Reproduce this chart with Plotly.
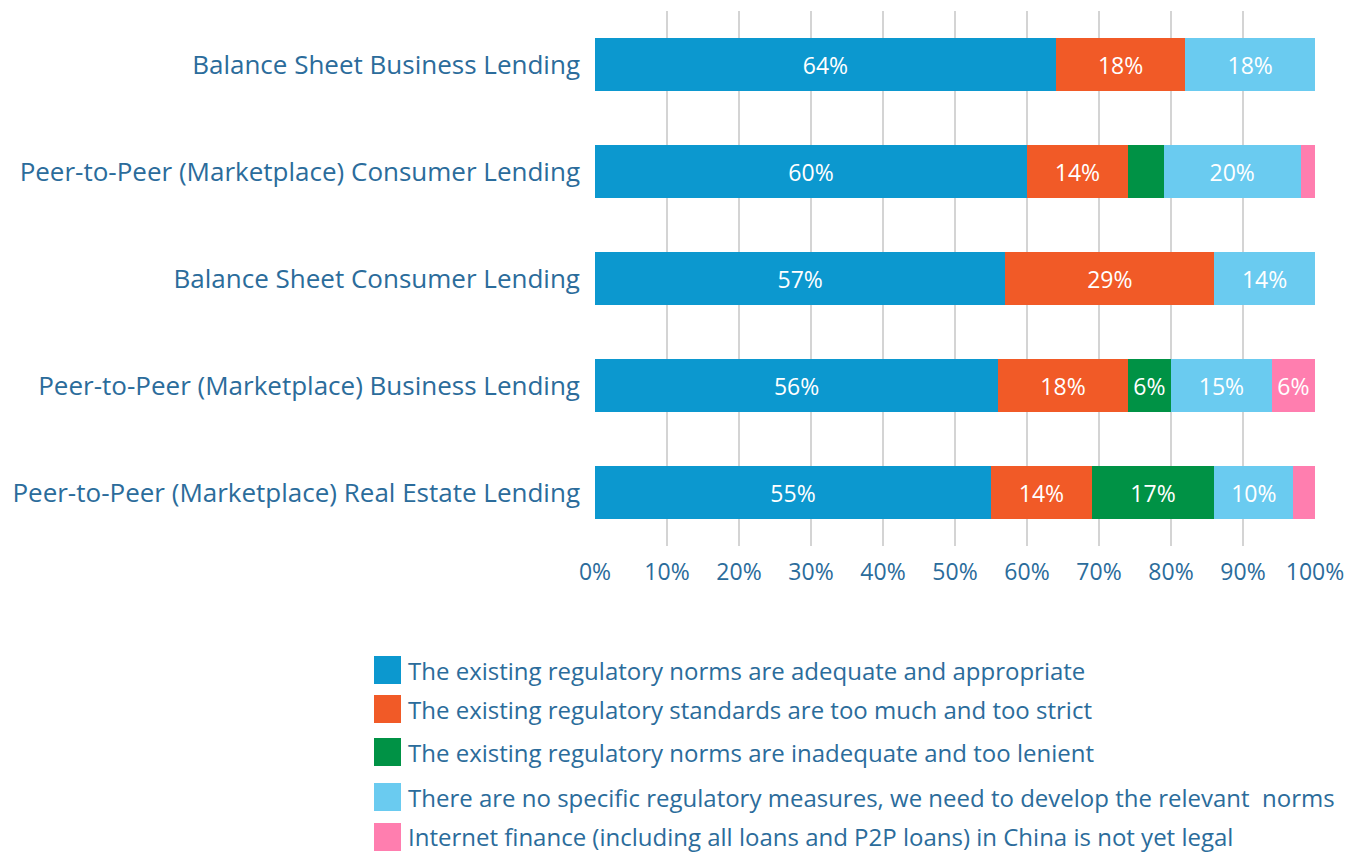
import plotly.graph_objects as go

categories = [
    "Balance Sheet Business Lending",
    "Peer-to-Peer (Marketplace) Consumer Lending",
    "Balance Sheet Consumer Lending",
    "Peer-to-Peer (Marketplace) Business Lending",
    "Peer-to-Peer (Marketplace) Real Estate Lending",
]

series_names = [
    "The existing regulatory norms are adequate and appropriate",
    "The existing regulatory standards are too much and too strict",
    "The existing regulatory norms are inadequate and too lenient",
    "There are no specific regulatory measures, we need to develop the relevant  norms",
    "Internet finance (including all loans and P2P loans) in China is not yet legal",
]

# segment widths (%)
adequate = [64, 60, 57, 56, 55]
too_strict = [18, 14, 29, 18, 14]
too_lenient = [0, 5, 0, 6, 17]
no_measures = [18, 19, 14, 14, 11]
not_legal = [0, 2, 0, 6, 3]

# printed labels
adequate_lbl = ["64%", "60%", "57%", "56%", "55%"]
too_strict_lbl = ["18%", "14%", "29%", "18%", "14%"]
too_lenient_lbl = ["", "", "", "6%", "17%"]
no_measures_lbl = ["18%", "20%", "14%", "15%", "10%"]
not_legal_lbl = ["", "", "", "6%", ""]

x_tick_vals = [0, 10, 20, 30, 40, 50, 60, 70, 80, 90, 100]
x_tick_text = ["0%", "10%", "20%", "30%", "40%", "50%", "60%", "70%", "80%", "90%", "100%"]

colors = ["#0C98CF", "#F15A27", "#009245", "#6ACBF0", "#FF7EAF"]

values = [adequate, too_strict, too_lenient, no_measures, not_legal]
labels = [adequate_lbl, too_strict_lbl, too_lenient_lbl, no_measures_lbl, not_legal_lbl]

FONT = "Open Sans"
TXT = "#2B6C9B"

fig = go.Figure()
for name, vals, lbl, col in zip(series_names, values, labels, colors):
    fig.add_trace(go.Bar(
        y=categories, x=vals, name=name, orientation="h",
        marker=dict(color=col, line=dict(width=0)),
        text=lbl, textposition="inside", insidetextanchor="middle",
        textangle=0,
        textfont=dict(family=FONT, size=23, color="white"),
        showlegend=False, hoverinfo="x+name",
    ))

# the page has an 8px body margin; work in page pixels
OFF = 8
PW, PH = 1365, 852
W, H = PW - 2 * OFF, PH - OFF
L, R, T, B = 595, 1315, 11, 546  # plot area in page pixels

def px_x(p):
    return (p - L) / (R - L)

def px_y(p):
    return (B - p) / (B - T)

shapes = []
annotations = []
legend_centers = [670, 709, 752, 797, 837]
for name, col, cy in zip(series_names, colors, legend_centers):
    shapes.append(dict(type="rect", xref="paper", yref="paper",
                       x0=px_x(374), x1=px_x(401),
                       y0=px_y(cy + 14), y1=px_y(cy - 14),
                       fillcolor=col, line=dict(width=0)))
    annotations.append(dict(xref="paper", yref="paper", x=px_x(406), y=px_y(cy),
                            xanchor="left", yanchor="middle", showarrow=False,
                            text=name, font=dict(family=FONT, size=24, color=TXT)))

fig.update_layout(
    barmode="stack",
    bargap=0.51,
    width=W, height=H,
    margin=dict(l=L - OFF, r=(OFF + W) - R, t=T - OFF, b=(OFF + H) - B, pad=0,
                autoexpand=False),
    paper_bgcolor="white", plot_bgcolor="white",
    uniformtext=dict(mode="show", minsize=23),
    shapes=shapes, annotations=annotations,
    showlegend=False,
    xaxis=dict(range=[0, 100], tickvals=x_tick_vals, ticktext=x_tick_text,
               showgrid=True, gridcolor="#D4D4D4", gridwidth=1.5,
               zeroline=False, showline=False, ticks="", automargin=False,
               tickfont=dict(family=FONT, size=23, color=TXT),
               ticklabelstandoff=10, fixedrange=True),
    yaxis=dict(autorange="reversed", showgrid=False, zeroline=False,
               showline=False, ticks="", automargin=False,
               tickfont=dict(family=FONT, size=26, color=TXT),
               ticklabelstandoff=14, fixedrange=True),
)

fig.write_html("out.html")
